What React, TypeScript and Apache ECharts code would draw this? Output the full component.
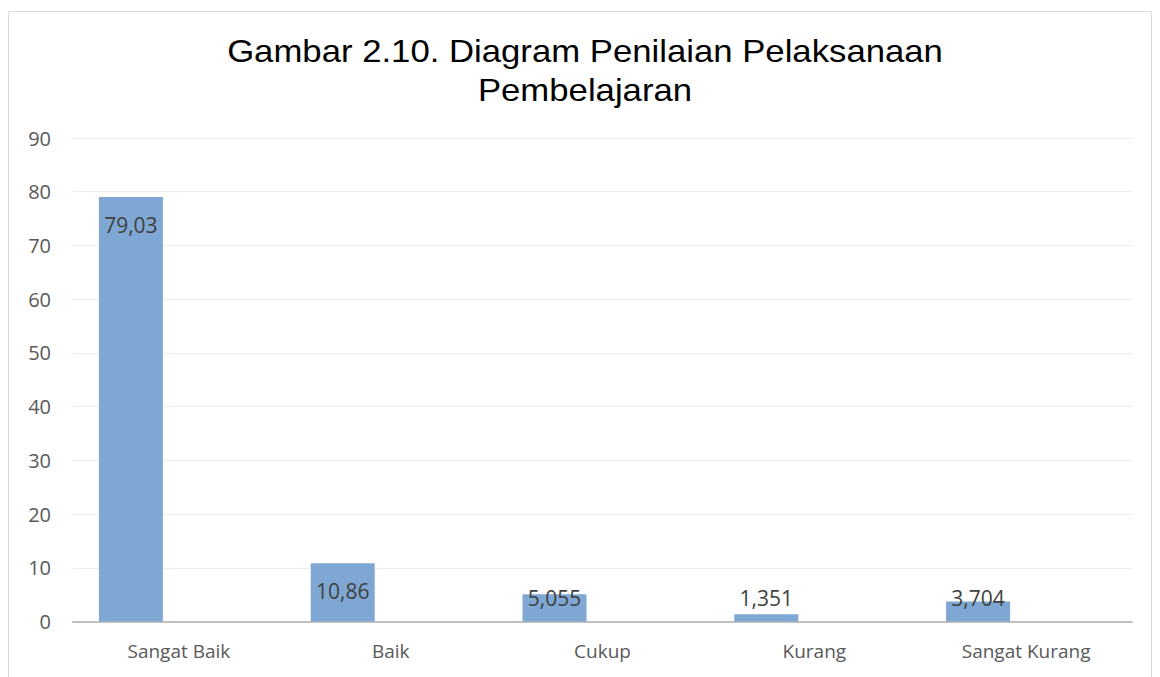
import React, { useEffect, useRef } from "react";
import * as echarts from "echarts";

const categories = ["Sangat Baik", "Baik", "Cukup", "Kurang", "Sangat Kurang"];
const values = [79.03, 10.86, 5.055, 1.351, 3.704];
const valueLabels = ["79,03", "10,86", "5,055", "1,351", "3,704"];
const emptySeries = [null, null, null, null, null];
const titleLines = ["Gambar 2.10. Diagram Penilaian Pelaksanaan", "Pembelajaran"];

const W = 1144;
const H = 669;

export default function App() {
  const ref = useRef<HTMLDivElement>(null);
  useEffect(() => {
    if (!ref.current) return;
    const chart = echarts.init(ref.current, null, { renderer: "svg" });
    const barData = values.map((v, i) => {
      const small = v < 9.8;
      return {
        value: v,
        label: {
          show: true,
          formatter: valueLabels[i],
          position: small ? "insideBottom" : "insideTop",
          distance: small ? 12 : 16,
        },
      };
    });
    chart.setOption({
      animation: false,
      backgroundColor: "#ffffff",
      graphic: [
        {
          type: "rect",
          shape: { x: 0.5, y: 3.5, width: W - 1, height: H + 20 },
          style: { fill: "none", stroke: "#d9d9d9", lineWidth: 1 },
          silent: true,
        },
        ...titleLines.map((t, i) => ({
          type: "text",
          x: 577,
          y: 43 + i * 39,
          scaleX: 1.085,
          style: {
            text: t,
            fill: "#000000",
            font: "32px 'Liberation Sans', Arial, sans-serif",
            textAlign: "center",
            textVerticalAlign: "middle",
          },
        })),
      ],
      grid: { left: 65, right: 20, top: 130, bottom: 55.5, containLabel: false },
      xAxis: {
        type: "category",
        data: categories,
        axisLine: { lineStyle: { color: "#bfbfbf", width: 2 } },
        axisTick: { show: false },
        axisLabel: {
          color: "#595959",
          fontSize: 19,
          fontFamily: "'Open Sans', sans-serif",
          margin: 20,
        },
      },
      yAxis: {
        type: "value",
        min: 0,
        max: 90,
        interval: 10,
        axisLine: { show: false },
        axisTick: { show: false },
        splitLine: { lineStyle: { color: "#ececec", width: 1 } },
        axisLabel: {
          color: "#595959",
          fontSize: 20,
          fontFamily: "'Open Sans', sans-serif",
          margin: 22,
        },
      },
      series: [
        {
          type: "bar",
          data: barData,
          barWidth: 64,
          barGap: "50%",
          itemStyle: { color: "#7fa7d4" },
          label: {
            show: true,
            color: "#404040",
            fontSize: 21,
            lineHeight: 24,
            fontFamily: "'Open Sans', sans-serif",
          },
        },
        {
          type: "bar",
          data: emptySeries,
          barWidth: 64,
          itemStyle: { color: "#c0504d" },
        },
      ],
    });
    return () => chart.dispose();
  }, []);
  return <div ref={ref} style={{ width: W, height: H }} />;
}
